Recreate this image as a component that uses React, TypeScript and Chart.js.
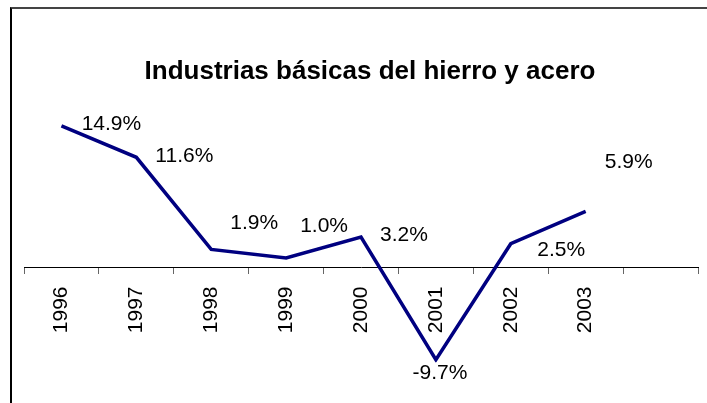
import { useEffect, useRef } from 'react';
import { Chart, registerables } from 'chart.js';

Chart.register(...registerables);

const TITLE = 'Industrias básicas del hierro y acero';
const categories = ['1996', '1997', '1998', '1999', '2000', '2001', '2002', '2003', ''];
const values = [14.9, 11.6, 1.9, 1.0, 3.2, -9.7, 2.5, 5.9];
const valueLabels = ['14.9%', '11.6%', '1.9%', '1.0%', '3.2%', '-9.7%', '2.5%', '5.9%'];
// label placement relative to each point (dx, dy in px)
const labelOffsets = [
  [50, -2],
  [48, -1],
  [43, -26.5],
  [38, -31.5],
  [43, -2],
  [4, 14],
  [50.5, 6],
  [43, -49.5],
];

const FONT = '"Liberation Sans", Arial, sans-serif';

const titlePlugin = {
  id: 'customTitle',
  afterDraw(chart: any) {
    const ctx = chart.ctx;
    ctx.save();
    ctx.font = `bold 26px ${FONT}`;
    ctx.fillStyle = '#000';
    ctx.textAlign = 'center';
    ctx.textBaseline = 'alphabetic';
    ctx.fillText(TITLE, chart.width / 2, 70);
    ctx.restore();
  },
};

const dataLabelPlugin = {
  id: 'dataLabels',
  afterDatasetsDraw(chart: any) {
    const ctx = chart.ctx;
    const meta = chart.getDatasetMeta(0);
    ctx.save();
    ctx.font = `21px ${FONT}`;
    ctx.fillStyle = '#000';
    ctx.textAlign = 'center';
    ctx.textBaseline = 'middle';
    meta.data.forEach((pt: any, i: number) => {
      const off = labelOffsets[i] || [0, 0];
      ctx.fillText(valueLabels[i], pt.x + off[0], pt.y + off[1]);
    });
    ctx.restore();
  },
};

export default function App() {
  const ref = useRef<HTMLCanvasElement | null>(null);

  useEffect(() => {
    if (!ref.current) return;
    const chart = new Chart(ref.current, {
      type: 'line',
      data: {
        labels: categories,
        datasets: [
          {
            data: values,
            borderColor: '#000080',
            backgroundColor: '#000080',
            borderWidth: 3.5,
            pointRadius: 0,
            pointHoverRadius: 0,
            tension: 0,
            fill: false,
            borderJoinStyle: 'miter',
          },
        ],
      },
      options: {
        animation: false,
        responsive: false,
        maintainAspectRatio: false,
        events: [],
        layout: { padding: { top: 106.5, bottom: 40.5, left: 12, right: 30 } },
        plugins: {
          legend: { display: false },
          title: { display: false },
          tooltip: { enabled: false },
        },
        scales: {
          x: {
            type: 'category',
            position: { y: 0 },
            offset: true,
            grid: {
              offset: true,
              drawOnChartArea: false,
              drawTicks: true,
              tickLength: 6,
              color: '#666',
              lineWidth: 1,
            },
            border: { display: true, color: '#000', width: 1 },
            ticks: {
              color: '#000',
              font: { family: FONT, size: 21 },
              minRotation: 90,
              maxRotation: 90,
              padding: 13,
              autoSkip: false,
            },
            afterFit: (s: any) => {
              s.height = 0;
            },
          },
          y: { display: false, min: -10, max: 16 },
        },
      },
      plugins: [titlePlugin, dataLabelPlugin],
    } as any);
    return () => chart.destroy();
  }, []);

  return (
    <div
      style={{
        position: 'fixed',
        left: 10,
        top: 7,
        width: 697,
        height: 396,
        borderTop: '2px solid #444',
        borderLeft: '2px solid #000',
        overflow: 'hidden',
        background: '#fff',
      }}
    >
      <canvas ref={ref} width={716} height={394} style={{ display: 'block' }} />
    </div>
  );
}
